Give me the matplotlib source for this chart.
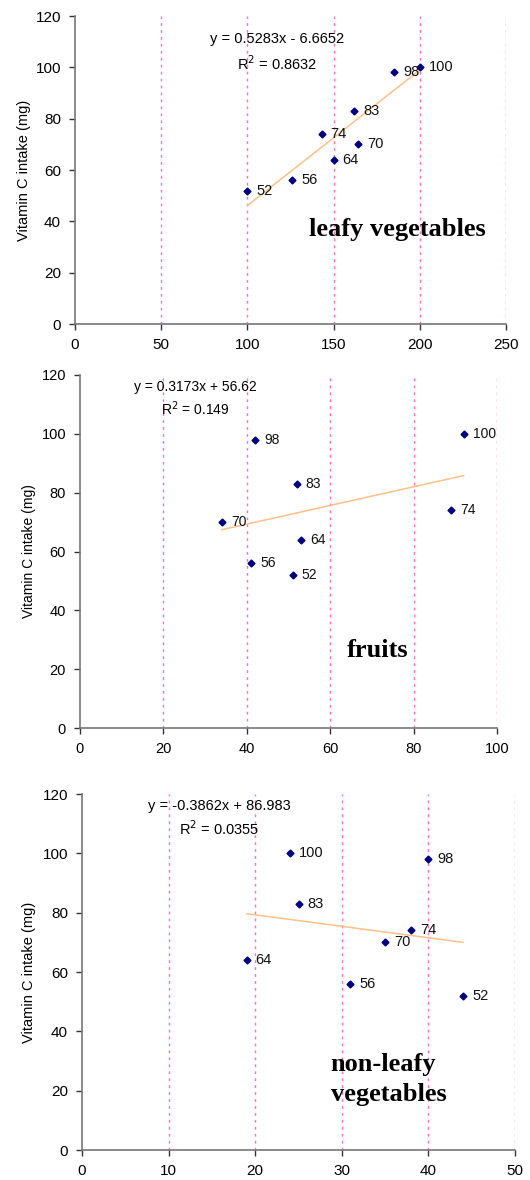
import matplotlib.pyplot as plt

plt.rcParams['font.family'] = ['Liberation Sans', 'DejaVu Sans']

# data per panel
leafy_x = [100, 126, 143, 150, 162, 164, 185, 200]
leafy_y = [52, 56, 74, 64, 83, 70, 98, 100]
fruit_x = [42, 92, 52, 89, 34, 53, 41, 51]
fruit_y = [98, 100, 83, 74, 70, 64, 56, 52]
nonleafy_x = [24, 40, 25, 38, 35, 19, 31, 44]
nonleafy_y = [100, 98, 83, 74, 70, 64, 56, 52]

titles = ['leafy vegetables', 'fruits', 'non-leafy\nvegetables']
slopes = [0.5283, 0.3173, -0.3862]
intercepts = [-6.6652, 56.62, 86.983]
eq_texts = ['y = 0.5283x - 6.6652', 'y = 0.3173x + 56.62', 'y = -0.3862x + 86.983']
r2_texts = ['0.8632', '0.149', '0.0355']
xmax = [250, 100, 50]
xsteps = [50, 20, 10]
yticks = [0, 20, 40, 60, 80, 100, 120]

xs = [leafy_x, fruit_x, nonleafy_x]
ys = [leafy_y, fruit_y, nonleafy_y]

W, H = 530, 1180
fig = plt.figure(figsize=(W / 100, H / 100), dpi=100)

# axes boxes in pixels: left, right, top, bottom
boxes = [(75, 506, 16, 324), (80, 497, 375, 728), (82, 515, 794, 1150)]
eq_pos = [(117, 111, 101.5), (27.7, 116, 108.7), (15.9, 116, 108.3)]
title_pos = [(187, 37, 'center'), (71.4, 26.5, 'center'), (28.7, 23.8, 'left')]
fs = [10.5, 10, 10.5]
ylab_x = [31, 36, 36]

for i in range(3):
    l, r, t, b = boxes[i]
    ax = fig.add_axes([l / W, 1 - b / H, (r - l) / W, (b - t) / H])
    x, y = xs[i], ys[i]

    for gx in range(xsteps[i], xmax[i] + 1, xsteps[i]):
        ax.axvline(gx, color='#ff70c0', lw=1, ls=(0, (2, 3)), zorder=0)

    x0, x1 = min(x), max(x)
    ax.plot([x0, x1], [slopes[i] * x0 + intercepts[i], slopes[i] * x1 + intercepts[i]],
            color='#ffc08a', lw=1.1, zorder=1)
    ax.plot(x, y, 'D', color='#000080', ms=3.5, zorder=3, clip_on=False)
    for px, py in zip(x, y):
        ax.annotate(str(py), (px, py), xytext=(6.5, 0), textcoords='offset points',
                    va='center', ha='left', fontsize=fs[i], color='#111111')

    ex, ey, ry = eq_pos[i]
    ax.text(ex, ey, eq_texts[i], ha='center', va='center', fontsize=fs[i])
    ax.text(ex, ry, 'R$^{2}$ = ' + r2_texts[i], ha='center', va='center', fontsize=fs[i])

    tx, ty, ha = title_pos[i]
    ax.text(tx, ty, titles[i], ha=ha, va='center', fontsize=19, fontweight='bold',
            family='Liberation Serif', linespacing=1.35)

    ax.set_xlim(0, xmax[i])
    ax.set_ylim(0, 120)
    ax.set_xticks(range(0, xmax[i] + 1, xsteps[i]))
    ax.set_yticks(yticks)
    for s in ['top', 'right']:
        ax.spines[s].set_visible(False)
    for s in ['left', 'bottom']:
        ax.spines[s].set_color('#777777')
        ax.spines[s].set_linewidth(1.2)
    ax.tick_params(direction='out', length=4, width=1, color='#333333',
                   labelsize=fs[i] + 0.5, pad=6)
    ax.set_ylabel('Vitamin C intake (mg)', fontsize=fs[i])
    ax.yaxis.set_label_coords((ylab_x[i] - l) / (r - l), 0.5)

fig.savefig('out.png', dpi=100)
